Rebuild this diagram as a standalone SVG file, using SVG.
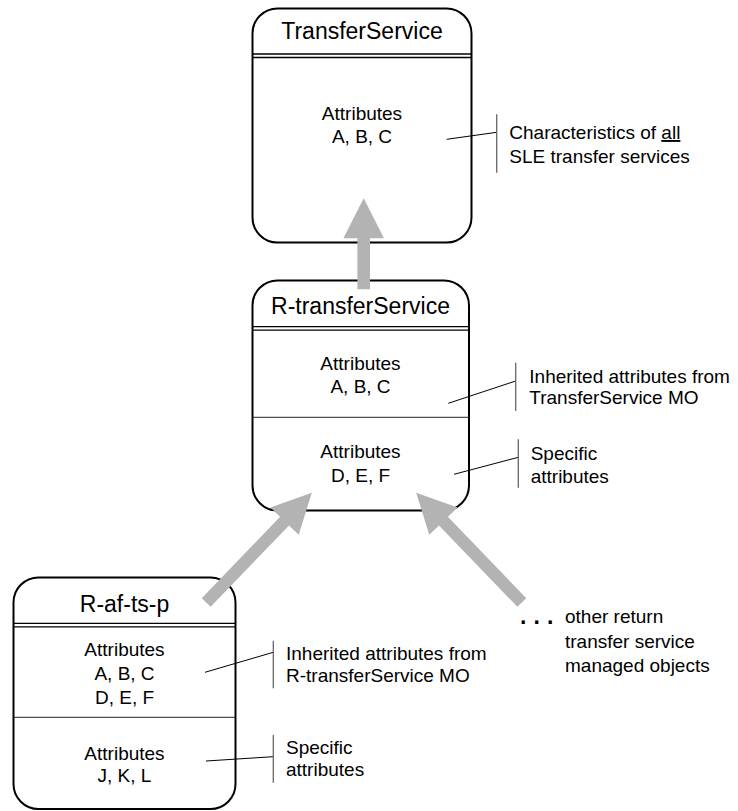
<svg xmlns="http://www.w3.org/2000/svg" width="738" height="811" viewBox="0 0 738 811">
<style>
text{font-family:"Liberation Sans",Arial,Helvetica,sans-serif;fill:#000}
.t{font-size:23px;text-anchor:middle}
.a{font-size:19px;text-anchor:middle}
.l{font-size:19px}
.box{fill:#fff;stroke:#000;stroke-width:2}
.dbl{stroke:#000;stroke-width:1.3}
.sep{stroke:#222;stroke-width:1}
.lead{stroke:#000;stroke-width:1}
.bar{stroke:#666;stroke-width:1.3}
.arr{fill:#b3b3b3;stroke:none}
</style>
<rect width="738" height="811" fill="#fff"/>
<g id="TransferService">
<rect class="box" x="252.5" y="8.5" width="219" height="234" rx="25" ry="25"/>
<line class="dbl" x1="252.5" y1="54" x2="471.5" y2="54"/>
<line class="dbl" x1="252.5" y1="57.5" x2="471.5" y2="57.5"/>
<text class="t" x="362" y="39">TransferService</text>
<text class="a" x="362" y="120">Attributes</text>
<text class="a" x="362" y="143">A, B, C</text>
</g>
<g id="R-transferService">
<rect class="box" x="252.5" y="280.5" width="216.5" height="230" rx="25" ry="25"/>
<line class="dbl" x1="252.5" y1="326.7" x2="469" y2="326.7"/>
<line class="dbl" x1="252.5" y1="330.2" x2="469" y2="330.2"/>
<line class="sep" x1="252.5" y1="417.3" x2="469" y2="417.3"/>
<text class="t" x="360.5" y="314">R-transferService</text>
<text class="a" x="360.5" y="370">Attributes</text>
<text class="a" x="360.5" y="392.5">A, B, C</text>
<text class="a" x="360.5" y="458.3">Attributes</text>
<text class="a" x="360.5" y="481.7">D, E, F</text>
</g>
<g id="R-af-ts-p">
<rect class="box" x="13.5" y="577.5" width="222" height="231.5" rx="25" ry="25"/>
<line class="dbl" x1="13.5" y1="623.3" x2="235.5" y2="623.3"/>
<line class="dbl" x1="13.5" y1="626.8" x2="235.5" y2="626.8"/>
<line class="sep" x1="13.5" y1="717.3" x2="235.5" y2="717.3"/>
<text class="t" x="124.5" y="611.7">R-af-ts-p</text>
<text class="a" x="124.5" y="656">Attributes</text>
<text class="a" x="124.5" y="680">A, B, C</text>
<text class="a" x="124.5" y="704">D, E, F</text>
<text class="a" x="124.5" y="760">Attributes</text>
<text class="a" x="124.5" y="782.3">J, K, L</text>
</g>
<g id="note-ts">
<line class="lead" x1="446.7" y1="139.3" x2="496.7" y2="132.3"/>
<line class="bar" x1="496.7" y1="114.3" x2="496.7" y2="172.7"/>
<text class="l" x="509.3" y="139">Characteristics of <tspan style="text-decoration:underline">all</tspan></text>
<text class="l" x="509.3" y="163.3">SLE transfer services</text>
</g>
<g id="note-rts-inh">
<line class="lead" x1="448.3" y1="403.3" x2="515.7" y2="381"/>
<line class="bar" x1="515.7" y1="362.7" x2="515.7" y2="411"/>
<text class="l" x="529.3" y="382.7">Inherited attributes from</text>
<text class="l" x="529.3" y="404.3">TransferService MO</text>
</g>
<g id="note-rts-spec">
<line class="lead" x1="454" y1="474.3" x2="518.3" y2="457.3"/>
<line class="bar" x1="518.3" y1="439.3" x2="518.3" y2="487.7"/>
<text class="l" x="530.7" y="460">Specific</text>
<text class="l" x="530.7" y="482.7">attributes</text>
</g>
<g id="note-raf-inh">
<line class="lead" x1="205" y1="672.3" x2="273.3" y2="652.3"/>
<line class="bar" x1="273.3" y1="640.7" x2="273.3" y2="688.3"/>
<text class="l" x="286" y="660">Inherited attributes from</text>
<text class="l" x="286" y="681.7">R-transferService MO</text>
</g>
<g id="note-raf-spec">
<line class="lead" x1="206" y1="761" x2="273.3" y2="756.7"/>
<line class="bar" x1="273.3" y1="735" x2="273.3" y2="782.7"/>
<text class="l" x="286" y="754">Specific</text>
<text class="l" x="286" y="776">attributes</text>
</g>
<g id="others">
<text style="font-weight:bold;font-size:23px" x="520 533.5 547" y="624">...</text>
<text class="l" x="565" y="623.3">other return</text>
<text class="l" x="565" y="648.3">transfer service</text>
<text class="l" x="565" y="671.7">managed objects</text>
</g>
<g id="connectors">
<path class="arr" transform="translate(363.7,289.3) rotate(-90)" d="M0,-6.3 L51,-6.3 L51,-20.3 L91,0 L51,20.3 L51,6.3 L0,6.3 Z"/>
<path class="arr" transform="translate(206.2,602.5) rotate(-46.1)" d="M0,-6.2 L113,-6.2 L113,-19.7 L152.3,0 L113,19.7 L113,6.2 L0,6.2 Z"/>
<path class="arr" transform="translate(521.8,602.5) rotate(-133.9)" d="M0,-6.2 L113,-6.2 L113,-19.7 L152.3,0 L113,19.7 L113,6.2 L0,6.2 Z"/>
</g>
</svg>
